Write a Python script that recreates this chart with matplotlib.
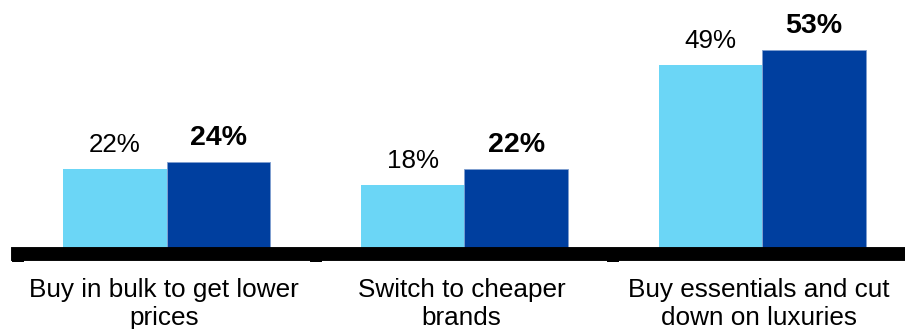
import numpy as np
import matplotlib.pyplot as plt

plt.rcParams['font.family'] = ['Liberation Sans', 'DejaVu Sans']

categories = ['Buy in bulk to get lower\nprices', 'Switch to cheaper\nbrands',
              'Buy essentials and cut\ndown on luxuries']
before = [22, 18, 49]
after = [24, 22, 53]

light = '#6bd6f6'
dark = '#003f9f'

fig = plt.figure(figsize=(9.05, 3.29), dpi=100)
W, H = 905, 329
ax = fig.add_axes([18 / W, (H - 254) / H, (911 - 18) / W, (254 - 10) / H])

x = np.arange(len(categories))
bw = 0.348
ax.bar(x - bw / 2, before, bw, color=light, linewidth=0)
ax.bar(x + bw / 2, after, bw, color=dark, edgecolor='#7f9fd0', linewidth=0.6)

for xi, v in zip(x - bw / 2, before):
    ax.annotate(f'{v}%', (xi, v), xytext=(0, 12.2), textcoords='offset points',
                ha='center', va='baseline', fontsize=18.7)
for xi, v in zip(x + bw / 2, after):
    ax.annotate(f'{v}%', (xi, v), xytext=(0, 12.2), textcoords='offset points',
                ha='center', va='baseline', fontsize=20.5, fontweight='bold')

ax.set_xlim(-0.5, 2.5)
ax.set_ylim(0, 244 / 3.85)

for s in ['top', 'right', 'left']:
    ax.spines[s].set_visible(False)
ax.spines['bottom'].set_linewidth(10)
ax.spines['bottom'].set_color('black')

ax.set_yticks([])
ax.set_xticks([-0.5, 0.5, 1.5, 2.5])
ax.set_xticklabels([])
ax.tick_params(axis='x', which='major', length=6, width=8.6, color='black')
ax.set_xticks(x - 0.01, minor=True)
ax.set_xticklabels(categories, minor=True, fontsize=18.8)
ax.tick_params(axis='x', which='minor', length=0, pad=17.5)

fig.savefig('out.png', dpi=100, facecolor='w')
